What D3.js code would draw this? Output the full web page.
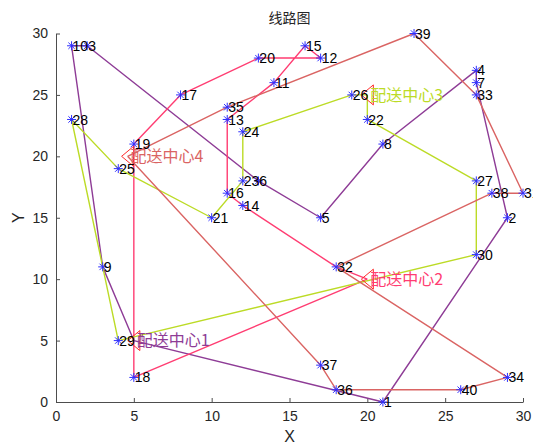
<!DOCTYPE html>
<html>
<head>
<meta charset="utf-8">
<script src="https://cdn.jsdelivr.net/npm/d3@7"></script>
<style>
  html, body { margin: 0; padding: 0; background: #fff; }
  svg { display: block; }
  text { font-family: "Liberation Sans", Arial, Helvetica, sans-serif; }
  .cjk { font-family: "Noto Sans CJK SC", "Noto Sans", sans-serif; }
</style>
</head>
<body>
<svg id="chart" width="533" height="444"></svg>
<script>
// Customer points: id, x, y
const customerIds = [1,2,3,4,5,6,7,8,9,10,11,12,13,14,15,16,17,18,19,20,21,22,23,24,25,26,27,28,29,30,31,32,33,34,35,36,37,38,39,40];
const customerX   = [21,29,2,27,17,13,27,21,3,1,14,17,11,12,16,11,8,5,5,13,10,20,12,12,4,19,27,1,4,27,30,18,27,29,11,18,17,28,23,26];
const customerY   = [0,15,29,27,15,18,26,21,11,29,26,28,23,16,29,17,25,2,21,28,15,23,18,22,19,25,18,23,5,12,17,11,25,2,24,1,3,17,30,1];

// Distribution centres
const centerNames = ["配送中心1", "配送中心2", "配送中心3", "配送中心4"];
const centerX = [5, 20, 20, 4.6];
const centerY = [5, 10, 25, 20];

// Routes: each starts and ends at its centre ("C" = centre, numbers = customer ids)
const route1 = ["C1", 1, 2, 7, 4, 8, 5, 6, 3, 10, 9, "C1"];
const route2 = ["C2", 32, 14, 16, 13, 11, 15, 12, 20, 17, 19, 18, "C2"];
const route3 = ["C3", 22, 27, 30, 29, 28, 25, 21, 23, 24, 26, "C3"];
const route4 = ["C4", 35, 39, 33, 31, 38, 32, 34, 40, 36, 37, "C4"];
const routeColors = ["#8E3C96", "#FF3D72", "#BCDB26", "#DA6463"];

// Axis ticks
const xTicks = [0, 5, 10, 15, 20, 25, 30];
const yTicks = [0, 5, 10, 15, 20, 25, 30];

const svg = d3.select("#chart");
const plotLeft = 56, plotRight = 523, plotTop = 33.5, plotBottom = 402;

const x = d3.scaleLinear().domain([0, 30]).range([plotLeft, plotRight]);
const y = d3.scaleLinear().domain([0, 30]).range([plotBottom, plotTop]);

function coord(stop) {
  if (typeof stop === "string") {
    const i = +stop.slice(1) - 1;
    return [centerX[i], centerY[i]];
  }
  const i = customerIds.indexOf(stop);
  return [customerX[i], customerY[i]];
}

// Axes (box off, ticks pointing inward)
const axisColor = "#4d4d4d";
const xAxis = svg.append("g").attr("transform", `translate(0,${plotBottom})`)
  .call(d3.axisBottom(x).tickValues(xTicks).tickSizeInner(-4).tickSizeOuter(0).tickPadding(9));
const yAxis = svg.append("g").attr("transform", `translate(${plotLeft},0)`)
  .call(d3.axisLeft(y).tickValues(yTicks).tickSizeInner(-4).tickSizeOuter(0).tickPadding(8));
[xAxis, yAxis].forEach(g => {
  g.select(".domain").attr("stroke", axisColor).attr("stroke-width", 1);
  g.selectAll(".tick line").attr("stroke", axisColor).attr("stroke-width", 1);
  g.selectAll(".tick text").attr("fill", "#262626").attr("font-size", 14)
    .attr("font-family", "Liberation Sans, Arial, sans-serif");
});

// Route lines
const line = d3.line().x(d => x(d[0])).y(d => y(d[1]));
[route1, route2, route3, route4].forEach((r, k) => {
  svg.append("path")
    .attr("d", line(r.map(coord)))
    .attr("fill", "none")
    .attr("stroke", routeColors[k])
    .attr("stroke-width", 1.4)
    .attr("stroke-linejoin", "round");
});

// Customer markers (asterisks)
const star = svg.append("g").attr("stroke", "#2F2FFF").attr("stroke-width", 1).attr("fill", "none");
customerIds.forEach((id, i) => {
  const cx = x(customerX[i]), cy = y(customerY[i]);
  const a = 4.5, b = 3.2;
  star.append("path").attr("d",
    `M${cx - a},${cy}H${cx + a}M${cx},${cy - a}V${cy + a}` +
    `M${cx - b},${cy - b}L${cx + b},${cy + b}M${cx - b},${cy + b}L${cx + b},${cy - b}`);
});

// Centre markers (left-pointing triangles)
centerNames.forEach((name, i) => {
  const cx = x(centerX[i]), cy = y(centerY[i]);
  const w = 6, h = 10;
  svg.append("path")
    .attr("d", `M${cx - w},${cy}L${cx + w},${cy - h}L${cx + w},${cy + h}Z`)
    .attr("fill", "none")
    .attr("stroke", "#FF2A2A")
    .attr("stroke-width", 1);
});

// Customer labels
svg.append("g").selectAll("text").data(customerIds).join("text")
  .attr("x", (d, i) => x(customerX[i]) + 1)
  .attr("y", (d, i) => y(customerY[i]))
  .attr("dy", "0.36em")
  .attr("font-size", 14)
  .attr("fill", "#000")
  .text(d => d);

// Centre labels
svg.append("g").selectAll("text").data(centerNames).join("text")
  .attr("class", "cjk")
  .attr("x", (d, i) => x(centerX[i]) + 3)
  .attr("y", (d, i) => y(centerY[i]))
  .attr("dy", "0.36em")
  .attr("font-size", 16)
  .attr("fill", (d, i) => routeColors[i])
  .text(d => d);

// Title and axis labels
svg.append("text").attr("class", "cjk")
  .attr("x", (plotLeft + plotRight) / 2).attr("y", 23)
  .attr("text-anchor", "middle").attr("font-size", 14).attr("fill", "#262626")
  .text("线路图");
svg.append("text")
  .attr("x", (plotLeft + plotRight) / 2).attr("y", 442)
  .attr("text-anchor", "middle").attr("font-size", 16).attr("fill", "#262626")
  .text("X");
svg.append("text")
  .attr("transform", `translate(24,${(plotTop + plotBottom) / 2}) rotate(-90)`)
  .attr("text-anchor", "middle").attr("font-size", 16).attr("fill", "#262626")
  .text("Y");
</script>
</body>
</html>
